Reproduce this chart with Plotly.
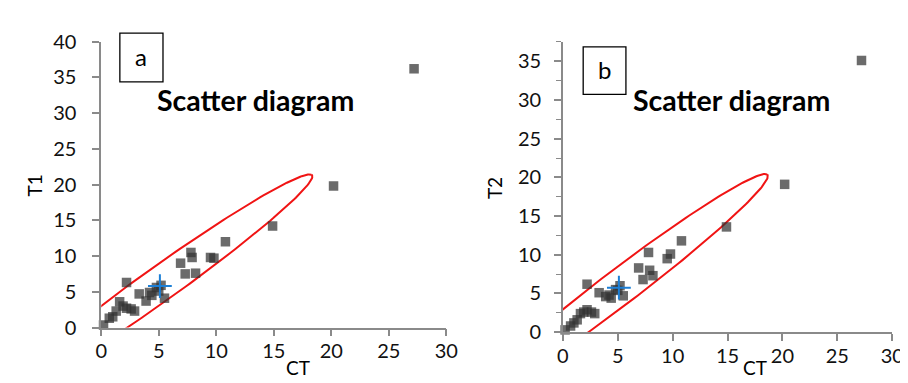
import numpy as np
import plotly.graph_objects as go

# ---------------- data ----------------
CT = [0.2, 0.7, 1.0, 1.3, 1.6, 1.9, 2.2, 2.2, 2.6, 2.9, 3.3, 3.9, 4.2, 4.4, 4.8,
      5.0, 5.2, 5.5, 6.9, 7.3, 7.8, 7.9, 8.2, 9.5, 9.8, 10.8, 14.9, 20.2, 27.2]
T1 = [0.35, 1.3, 1.5, 2.3, 3.6, 3.0, 2.7, 6.3, 2.6, 2.3, 4.7, 3.7, 4.9, 4.5, 5.6,
      5.1, 5.9, 4.1, 9.0, 7.5, 10.5, 9.8, 7.6, 9.8, 9.7, 12.0, 14.2, 19.8, 36.2]
T2 = [0.3, 0.8, 1.2, 1.6, 2.4, 2.6, 2.9, 6.2, 2.6, 2.4, 5.1, 4.6, 4.8, 4.4, 5.5,
      5.4, 6.0, 4.7, 8.3, 6.8, 10.3, 8.0, 7.3, 9.5, 10.1, 11.8, 13.6, 19.1, 35.1]

CENTROID_A = [5.1, 5.8]
CENTROID_B = [5.1, 5.75]

# ellipse: center x, center y, semi-major, semi-minor, angle (deg)
ELLIPSE_A = [4.95, 5.93, 20.4, 1.95, 49.2]
ELLIPSE_B = [5.1, 5.75, 19.9, 1.95, 47.3]

X_TICKS = [0, 5, 10, 15, 20, 25, 30]
YA_TICKS = [0, 5, 10, 15, 20, 25, 30, 35, 40]
YB_TICKS = [0, 5, 10, 15, 20, 25, 30, 35]


def ellipse_pts(p, n=240):
    cx, cy, a, b, ang = p
    th = np.deg2rad(ang)
    t = np.linspace(0, 2 * np.pi, n)
    x = cx + a * np.cos(t) * np.cos(th) - b * np.sin(t) * np.sin(th)
    y = cy + a * np.cos(t) * np.sin(th) + b * np.sin(t) * np.cos(th)
    return x, y


W, H = 908, 383
FONT = "Lato"
AX_COL = "#8a8a8a"
MK_COL = "rgba(50,50,50,0.72)"


def px(x):
    return x / W


def py(y):
    return 1 - y / H


fig = go.Figure()

for i, (ys, ell, cen) in enumerate([(T1, ELLIPSE_A, CENTROID_A), (T2, ELLIPSE_B, CENTROID_B)]):
    xa = "x" if i == 0 else "x2"
    ya = "y" if i == 0 else "y2"
    ex, ey = ellipse_pts(ell)
    fig.add_trace(go.Scatter(x=ex, y=ey, mode="lines", xaxis=xa, yaxis=ya,
                             line=dict(color="#f01414", width=2), hoverinfo="skip",
                             showlegend=False))
    fig.add_trace(go.Scatter(x=CT, y=ys, mode="markers", xaxis=xa, yaxis=ya,
                             marker=dict(symbol="square", size=9.5, color=MK_COL,
                                         line=dict(width=0)),
                             cliponaxis=False, showlegend=False))
    fig.add_trace(go.Scatter(x=[cen[0]], y=[cen[1]], mode="markers", xaxis=xa, yaxis=ya,
                             marker=dict(symbol="cross-thin", size=17,
                                         line=dict(color="#1c7fd6", width=2)),
                             cliponaxis=False, showlegend=False))

axis_common = dict(showline=True, linecolor=AX_COL, linewidth=1.6, showgrid=False,
                   zeroline=False, ticks="outside", tickcolor=AX_COL, tickwidth=1.6,
                   ticklen=7, tickfont=dict(family=FONT, size=20, color="#111"),
                   fixedrange=True)

fig.update_layout(
    width=W, height=H, margin=dict(l=0, r=0, t=0, b=0),
    paper_bgcolor="white", plot_bgcolor="white", showlegend=False,
    xaxis=dict(domain=[px(89), px(441)], range=[0, 30], tickvals=X_TICKS,
               anchor="y", ticklabelstandoff=-2, **axis_common),
    yaxis=dict(domain=[py(327), py(22)], range=[0, 40], tickvals=YA_TICKS,
               anchor="x", ticklabelstandoff=12, **axis_common),
    xaxis2=dict(domain=[px(560), px(896)], range=[0, 30], tickvals=X_TICKS,
                anchor="y2", ticklabelstandoff=-2, **axis_common),
    yaxis2=dict(domain=[py(332), py(22.3)], range=[0, 37.5], tickvals=YB_TICKS,
                anchor="x2", ticklabelstandoff=9,
                minor=dict(dtick=2.5, ticks="outside", ticklen=5, tickcolor=AX_COL,
                           tickwidth=1.4),
                **axis_common),
)

# boxes with panel letters
for (x0, y0, x1, y1, letter) in [(108, 13, 152, 65, "a"), (580.7, 27.7, 624.3, 78.3, "b")]:
    fig.add_shape(type="rect", xref="paper", yref="paper",
                  x0=px(x0), x1=px(x1), y0=py(y1), y1=py(y0),
                  line=dict(color="black", width=1.3), fillcolor="white")
    fig.add_annotation(xref="paper", yref="paper", x=px((x0 + x1) / 2), y=py((y0 + y1) / 2 - 1),
                       text=letter, showarrow=False, xanchor="center", yanchor="middle",
                       font=dict(family=FONT, size=24, color="black"))

# titles inside plots
for cx in [246, 731.7]:
    fig.add_annotation(xref="paper", yref="paper", x=px(cx), y=py(84),
                       text="<b>Scatter diagram</b>", showarrow=False,
                       xanchor="center", yanchor="middle",
                       font=dict(family=FONT, size=28.5, color="black"))

# axis titles
for (x, y, t) in [(21, 176, "T1"), (491, 178, "T2")]:
    fig.add_annotation(xref="paper", yref="paper", x=px(x), y=py(y), text=t,
                       showarrow=False, textangle=-90, xanchor="center", yanchor="middle",
                       font=dict(family=FONT, size=19, color="black"))
for (x, t) in [(290, "CT"), (756, "CT")]:
    fig.add_annotation(xref="paper", yref="paper", x=px(x), y=py(383), text=t,
                       showarrow=False, xanchor="center", yanchor="bottom", borderpad=0,
                       font=dict(family=FONT, size=19, color="black"))

fig.write_html("out.html")
